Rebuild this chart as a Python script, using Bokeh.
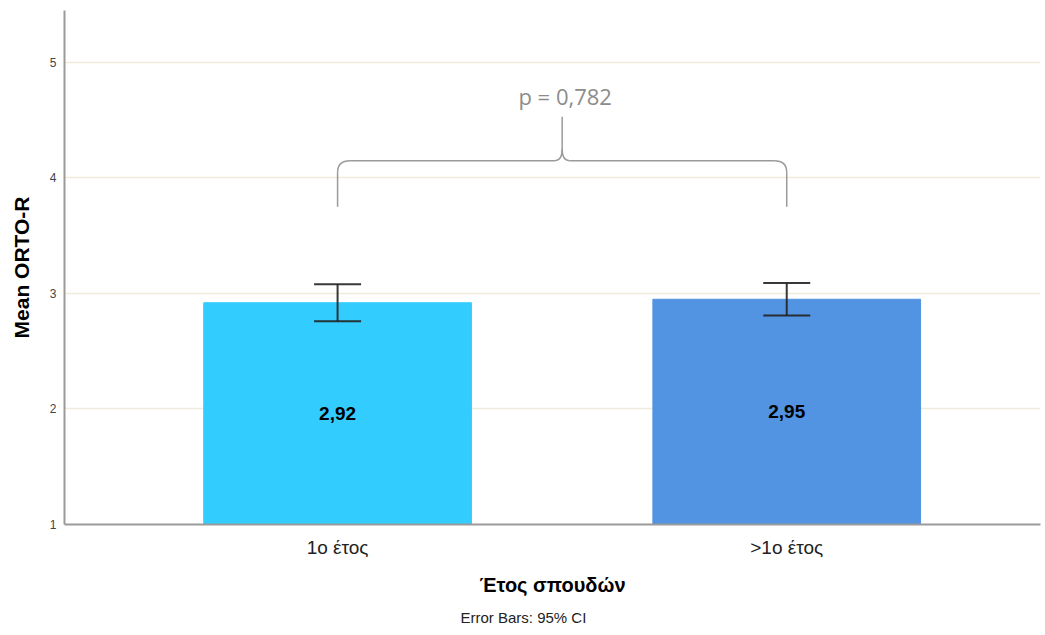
from bokeh.plotting import figure
from bokeh.models import ColumnDataSource, Whisker, TeeHead, FixedTicker, Range1d, Label, Title
from bokeh.embed import file_html
from bokeh.resources import INLINE
from bokeh.core.properties import value

# ---- data ----
categories = ["1ο έτος", ">1ο έτος"]
means = [2.92, 2.95]
ci_lower = [2.76, 2.81]
ci_upper = [3.08, 3.09]
bar_colors = ["#33CCFF", "#5294E2"]
y_ticks = [1, 2, 3, 4, 5]
p_value_text = "p = 0,782"
footnote = "Error Bars: 95% CI"
x_title = "Έτος σπουδών"
y_title = "Mean ORTO-R"

FONT = "Liberation Sans"
idx = list(range(len(categories)))

p = figure(width=1045, height=635, output_backend="svg", toolbar_location=None,
           x_range=Range1d(-0.608, 1.565), y_range=Range1d(1, 5.45),
           min_border_left=64, min_border_right=5, min_border_top=10, min_border_bottom=111)
p.outline_line_color = None
p.background_fill_color = "white"

src = ColumnDataSource(dict(x=idx, top=means, color=bar_colors,
                            lo=ci_lower, hi=ci_upper,
                            mid=[(1 + m) / 2 for m in means],
                            lab=[f"{m:.2f}".replace(".", ",") for m in means]))

p.vbar(x="x", top="top", bottom=1, width=0.596, fill_color="color", line_color="color", source=src)

wh = Whisker(base="x", lower="lo", upper="hi", source=src, level="overlay",
             line_color="#222222", line_width=2, line_alpha=0.9,
             upper_head=TeeHead(size=47, line_color="#222222", line_width=2, line_alpha=0.9),
             lower_head=TeeHead(size=47, line_color="#222222", line_width=2, line_alpha=0.9))
p.add_layout(wh)

p.text(x="x", y="mid", text="lab", source=src, text_align="center", text_baseline="middle",
       text_font=value(FONT), text_font_size="19px", text_font_style="bold", text_color="#000000")

# ---- brace annotation between the two bars ----
x0, x1 = idx[0], idx[1]
xm = (x0 + x1) / 2
yb, yh, ytip = 3.75, 4.15, 4.53
rx, ry = 0.028, 0.10
rxc, ryc = 0.016, 0.10
bc = "#9a9a9a"
bw = 1.5
p.segment(x0=[x0, x1, x0 + rx, xm + rxc, xm], y0=[yb, yb, yh, yh, yh + ryc],
          x1=[x0, x1, xm - rxc, x1 - rx, xm], y1=[yh - ry, yh - ry, yh, yh, ytip],
          line_color=bc, line_width=bw)
p.quadratic(x0=[x0, x1, xm - rxc, xm + rxc], y0=[yh - ry, yh - ry, yh, yh],
            x1=[x0 + rx, x1 - rx, xm, xm], y1=[yh, yh, yh + ryc, yh + ryc],
            cx=[x0, x1, xm, xm], cy=[yh, yh, yh, yh],
            line_color=bc, line_width=bw)
p.add_layout(Label(x=xm, y=4.706, x_offset=3, text=p_value_text, text_align="center", text_baseline="middle",
                   text_font="Open Sans", text_font_size="22px", text_color="#8c8c8c"))

# footnote below the axis title
p.add_layout(Title(text=footnote, align="left", offset=396, standoff=16,
                   text_font=FONT, text_font_size="15px", text_font_style="normal",
                   text_color="#222222"), "below")

# ---- axes ----
p.xgrid.grid_line_color = None
p.ygrid.grid_line_color = "#F0ECDD"
p.ygrid.grid_line_width = 1.5
p.yaxis.ticker = FixedTicker(ticks=y_ticks)
p.xaxis.ticker = FixedTicker(ticks=idx)
p.xaxis.major_label_overrides = {i: c for i, c in zip(idx, categories)}

for ax in (p.xaxis[0], p.yaxis[0]):
    ax.axis_line_color = "#9a9a9a"
    ax.axis_line_width = 2
    ax.major_tick_line_color = None
    ax.minor_tick_line_color = None
    ax.major_tick_out = 0
    ax.major_tick_in = 0
    ax.axis_label_text_font = FONT
    ax.axis_label_text_font_style = "bold"
    ax.axis_label_text_color = "#000000"
    ax.major_label_text_font = FONT

p.xaxis.axis_label = x_title
p.xaxis.axis_label_text_font_size = "20px"
p.xaxis.major_label_text_font_size = "19px"
p.xaxis.major_label_text_color = "#222222"
p.xaxis.major_label_standoff = 12
p.xaxis.axis_label_standoff = 13

p.yaxis.axis_label = y_title
p.yaxis.axis_label_text_font_size = "21px"
p.yaxis.major_label_text_font_size = "12px"
p.yaxis.major_label_text_color = "#444444"
p.yaxis.major_label_standoff = 8
p.yaxis.axis_label_standoff = 14

open("out.html", "w").write(file_html(p, INLINE))
